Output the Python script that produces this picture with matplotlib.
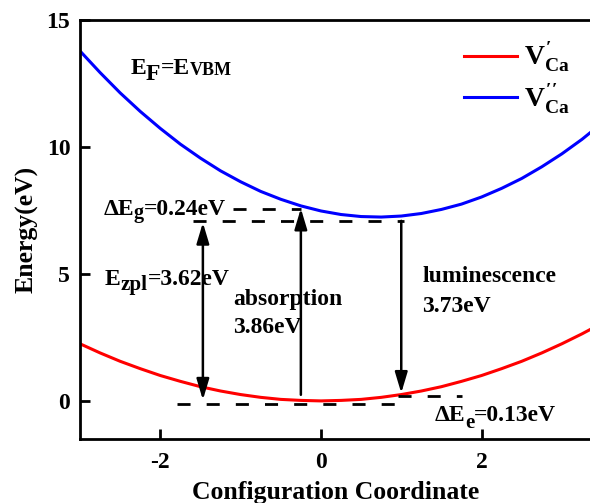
import matplotlib
matplotlib.use("Agg")
import matplotlib.pyplot as plt

plt.rcParams["font.family"] = ["Liberation Serif", "DejaVu Serif"]
plt.rcParams["font.weight"] = "bold"
plt.rcParams["axes.unicode_minus"] = False
plt.rcParams["mathtext.fontset"] = "custom"
plt.rcParams["mathtext.rm"] = "Liberation Serif:bold"
plt.rcParams["mathtext.it"] = "Liberation Serif:bold"
plt.rcParams["mathtext.bf"] = "Liberation Serif:bold"

# configuration coordinate samples and potential energy curves
q = [-3.0, -2.75, -2.5, -2.25, -2.0, -1.75, -1.5, -1.25, -1.0, -0.75, -0.5, -0.25,
     0.0, 0.25, 0.5, 0.75, 1.0, 1.25, 1.5, 1.75, 2.0, 2.25, 2.5, 2.75, 3.0, 3.25, 3.5]
e_single = [2.25, 1.89, 1.56, 1.27, 1.00, 0.77, 0.56, 0.39, 0.25, 0.14, 0.06, 0.02,
            0.00, 0.02, 0.06, 0.14, 0.25, 0.39, 0.56, 0.77, 1.00, 1.27, 1.56, 1.89, 2.25, 2.64, 3.06]
e_double = [13.78, 12.93, 12.13, 11.40, 10.73, 10.11, 9.56, 9.06, 8.63, 8.25, 7.94, 7.68,
            7.48, 7.34, 7.26, 7.24, 7.28, 7.38, 7.54, 7.75, 8.03, 8.37, 8.76, 9.22, 9.73, 10.30, 10.94]
labels = [r"$V^{\prime}_{Ca}$", r"$V^{\prime\prime}_{Ca}$"]

# energy levels for the dashed guides: (y, x_start, x_end)
guides = [(7.55, -1.09, -0.25),
          (7.07, -1.59, 1.03),
          (-0.12, -1.79, 1.10),
          (0.21, 0.96, 1.76)]

# transitions: (x, y_from, y_to, style)
arrows = [(-1.47, 0.04, 7.02, "<|-|>"),   # zero phonon line
          (-0.25, 0.24, 7.58, "-|>"),     # absorption
          (1.00, 7.09, 0.31, "-|>")]      # luminescence

fig = plt.figure(figsize=(5.9, 5.03), dpi=100)
ax = fig.add_axes([80 / 590, 64 / 503, 512 / 590, 419 / 503])

ax.plot(q, e_single, color="#ff0000", lw=2.2, label=labels[0])
ax.plot(q, e_double, color="#0000ff", lw=2.2, label=labels[1])

for y, x0, x1 in guides:
    ax.plot([x0, x1], [y, y], color="black", lw=2.0, dashes=(4.7, 5.8))

for x, y0, y1, style in arrows:
    ax.annotate("", xy=(x, y1), xytext=(x, y0),
                arrowprops=dict(arrowstyle=style + ",head_length=0.6,head_width=0.18",
                                mutation_scale=21, lw=1.8, color="black",
                                shrinkA=0, shrinkB=0))


def rich_text(x, y, parts):
    # parts: (string, fontsize, drop below baseline in points)
    s, size, drop = parts[0]
    prev = ax.text(x, y, s, fontsize=size, va="baseline")
    prev_size, prev_drop = size, drop
    for s, size, drop in parts[1:]:
        dy = prev_drop - drop + 0.22 * (prev_size - size)
        prev = ax.annotate(s, xy=(1, 0), xycoords=prev, xytext=(0, dy),
                           textcoords="offset points", fontsize=size, va="bottom")
        prev_size, prev_drop = size, drop


fs = 17
rich_text(-2.375, 12.87, [("E", fs, 0), ("F", fs, 4.3), ("=E", fs, 0), ("VBM", 13, 0.8)])
rich_text(-2.71, 7.32, [("ΔE", fs, 0), ("g", 14.5, 3), ("=0.24eV", fs, 0)])
rich_text(-2.69, 4.57, [("E", fs, 0), ("zpl", 15, 4.5), ("=3.62eV", fs, 0)])
rich_text(1.41, -0.81, [("ΔE", fs, 0), ("e", 15, 5), ("=0.13eV", fs, 0)])
ax.text(-1.09, 3.78, "absorption", fontsize=fs)
ax.text(-1.09, 2.68, "3.86eV", fontsize=fs)
ax.text(1.26, 4.70, "luminescence", fontsize=fs)
ax.text(1.26, 3.52, "3.73eV", fontsize=fs)

ax.set_xlim(-3.0, 3.375)
ax.set_ylim(-1.5, 15)
ax.set_xticks([-2, 0, 2])
ax.set_yticks([0, 5, 10, 15])
ax.tick_params(direction="in", length=7, width=2, labelsize=17)
ax.tick_params(axis="x", pad=9)
ax.tick_params(axis="y", pad=7)
for s in ax.spines.values():
    s.set_linewidth(2)
ax.spines["right"].set_visible(False)

ax.set_xlabel("Configuration Coordinate", fontsize=18.5, fontweight="bold", labelpad=6)
ax.set_ylabel("Energy(eV)", fontsize=18.5, fontweight="bold", labelpad=6)

leg = ax.legend(loc="upper right", bbox_to_anchor=(1.004, 1.01), frameon=False,
                fontsize=20, handlelength=1.9, labelspacing=0.3, handletextpad=0.25)

fig.savefig("out.png", dpi=100)
